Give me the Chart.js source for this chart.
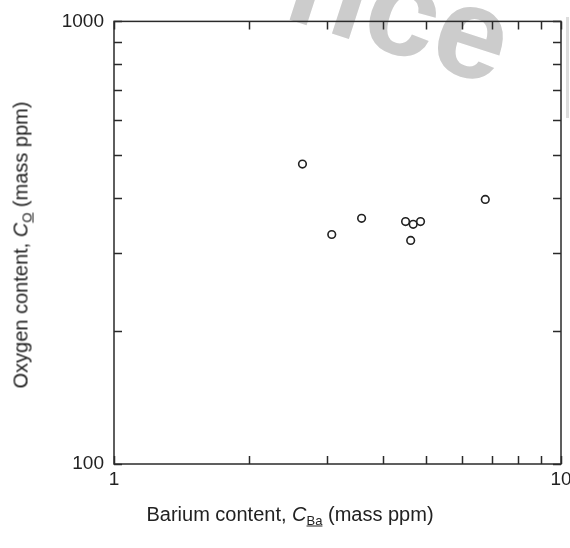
<!DOCTYPE html>
<html>
<head>
<meta charset="utf-8">
<script src="https://cdn.jsdelivr.net/npm/chart.js@4.4.1/dist/chart.umd.min.js"></script>
<style>
  html, body { margin: 0; padding: 0; background: #fff; }
  #wrap { position: relative; width: 570px; height: 548px; overflow: hidden; background: #fff; }
  #wm { position: absolute; left: 281px; top: -93px; font: bold 130px "Liberation Sans", Arial, sans-serif; line-height: 1; color: #cccccc; transform-origin: 0 110px; transform: rotate(18deg); white-space: nowrap; z-index: 0; }
  #bar { position: absolute; left: 566px; top: 17px; width: 3px; height: 101px; background: #dddddd; z-index: 0; }
  canvas { position: absolute; left: 0; top: 0; z-index: 1; }
  .title { position: absolute; font: 20px "Liberation Sans", Arial, sans-serif; color: #222; white-space: nowrap; z-index: 2; }
  .title sub { font-size: 13px; vertical-align: -4px; text-decoration: underline; }
  #xt { left: 290px; top: 515px; transform: translate(-50%, -50%); }
  #yt { left: 22px; top: 245px; transform: translate(-50%, -50%) rotate(-90deg); }
</style>
</head>
<body>
<div id="wrap">
  <div id="wm">nce</div>
  <div id="bar"></div>
  <canvas id="c" width="600" height="548"></canvas>
  <div class="title" id="xt">Barium content, <i>C</i><sub>Ba</sub> (mass ppm)</div>
  <div class="title" id="yt">Oxygen content, <i>C</i><sub>O</sub> (mass ppm)</div>
</div>
<script>
const bariumPpm = [2.64, 3.07, 3.58, 4.49, 4.67, 4.85, 4.61, 6.77];
const oxygenPpm = [476, 330, 359, 353, 348, 353, 320, 396];
const xRange = [1, 10];
const yRange = [100, 1000];
const xTickValues = [1, 2, 3, 4, 5, 6, 7, 8, 9, 10];
const yTickValues = [100, 200, 300, 400, 500, 600, 700, 800, 900, 1000];
const xTickLabels = [1, 10];
const yTickLabels = [100, 1000];

const points = bariumPpm.map((x, i) => ({ x: x, y: oxygenPpm[i] }));
const AX = '#2a2a2a';

const inwardTicks = {
  id: 'inwardTicks',
  afterDraw(chart) {
    const { ctx, chartArea: a, scales } = chart;
    ctx.save();
    ctx.strokeStyle = AX;
    ctx.lineWidth = 1.5;
    const L = 8;
    ctx.beginPath();
    scales.x.ticks.forEach(t => {
      const px = Math.round(scales.x.getPixelForValue(t.value)) + 0.5;
      ctx.moveTo(px, a.bottom); ctx.lineTo(px, a.bottom - L);
      ctx.moveTo(px, a.top); ctx.lineTo(px, a.top + L);
    });
    scales.y.ticks.forEach(t => {
      const py = Math.round(scales.y.getPixelForValue(t.value)) + 0.5;
      ctx.moveTo(a.left, py); ctx.lineTo(a.left + L, py);
      ctx.moveTo(a.right, py); ctx.lineTo(a.right - L, py);
    });
    ctx.stroke();
    ctx.strokeRect(a.left, a.top, a.right - a.left, a.bottom - a.top);
    ctx.restore();
  }
};

new Chart(document.getElementById('c'), {
  type: 'scatter',
  data: {
    datasets: [{
      data: points,
      pointStyle: 'circle',
      pointRadius: 3.8,
      pointBorderWidth: 1.6,
      pointBorderColor: '#222',
      pointBackgroundColor: '#fff'
    }]
  },
  options: {
    responsive: false,
    animation: false,
    events: [],
    layout: { padding: { top: 19, right: 39, left: 0, bottom: 0 } },
    plugins: { legend: { display: false }, tooltip: { enabled: false } },
    scales: {
      x: {
        type: 'logarithmic',
        min: xRange[0], max: xRange[1],
        grid: { display: false, drawTicks: false },
        border: { display: false },
        afterFit(s) { s.height = 84; },
        afterBuildTicks(s) { s.ticks = xTickValues.map(v => ({ value: v })); },
        ticks: {
          padding: 4,
          maxRotation: 0,
          autoSkip: false,
          color: '#222',
          font: { family: '"Liberation Sans", Arial, sans-serif', size: 19 },
          callback: (v) => xTickLabels.includes(v) ? String(v) : ''
        }
      },
      y: {
        type: 'logarithmic',
        min: yRange[0], max: yRange[1],
        grid: { display: false, drawTicks: false },
        border: { display: false },
        afterFit(s) { s.width = 114; },
        afterBuildTicks(s) { s.ticks = yTickValues.map(v => ({ value: v })); },
        ticks: {
          padding: 10,
          autoSkip: false,
          color: '#222',
          font: { family: '"Liberation Sans", Arial, sans-serif', size: 19 },
          callback: (v) => yTickLabels.includes(v) ? String(v) : ''
        }
      }
    }
  },
  plugins: [inwardTicks]
});
</script>
</body>
</html>
